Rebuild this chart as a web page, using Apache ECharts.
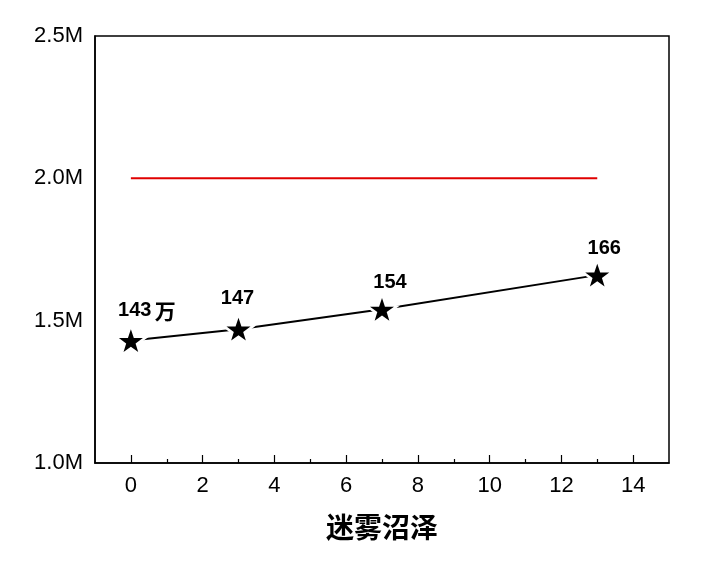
<!DOCTYPE html>
<html>
<head>
<meta charset="utf-8">
<script src="https://cdn.jsdelivr.net/npm/echarts@6/dist/echarts.min.js"></script>
<style>
  html, body { margin: 0; padding: 0; background: #fff; }
  #main { width: 703px; height: 563px; }
</style>
</head>
<body>
<div id="main"></div>
<script>
// data
var xValues = [0, 3, 7, 13];
var yValues = [1430000, 1470000, 1540000, 1660000];
var pointLabels = ['143', '147', '154', '166'];
var refX = [0, 13];
var refY = 2000000;
var xMajorTicks = [0, 2, 4, 6, 8, 10, 12, 14];
var xMinorTicks = [1, 3, 5, 7, 9, 11, 13];
var xTitle = '迷雾沼泽';

// label nudges (px) so each number sits where it does in the picture
var labelOffsets = [[16, -30], [-1, -31], [8, -27], [7, -27]];

var starPath = 'path://M50,0 L61.8,35.1 L98.1,35.1 L68.8,56.7 L79.4,91 L50,70 L20.6,91 L31.2,56.7 L1.9,35.1 L38.2,35.1 Z';
var fontLatin = '"Liberation Sans", Arial, sans-serif';

var chart = echarts.init(document.getElementById('main'));

var points = xValues.map(function (x, i) { return [x, yValues[i]]; });

var labelled = xValues.map(function (x, i) {
    return {
        value: [x, yValues[i]],
        label: {
            show: true,
            position: 'inside',
            offset: labelOffsets[i],
            formatter: i === 0 ? '{n|' + pointLabels[i] + '} {u|万}' : '{n|' + pointLabels[i] + '}'
        }
    };
});

var option = {
    animation: false,
    backgroundColor: '#fff',
    grid: {
        left: 95, top: 36, right: 34, bottom: 100,
        show: true,
        borderColor: '#000',
        borderWidth: 1.5,
        backgroundColor: 'transparent'
    },
    xAxis: [
        {
            type: 'value',
            min: -1, max: 15,
            splitLine: { show: false },
            axisLine: { show: true, onZero: false, lineStyle: { color: '#000', width: 1.5 } },
            axisTick: { show: true, inside: true, length: 8, customValues: xMajorTicks, lineStyle: { color: '#000', width: 1.2 } },
            axisLabel: {
                customValues: xMajorTicks,
                color: '#000', fontSize: 22, fontFamily: fontLatin, margin: 12
            },
            name: xTitle,
            nameLocation: 'middle',
            nameGap: 50,
            nameTextStyle: { color: '#000', fontSize: 28, fontWeight: 'bold', fontFamily: '"Noto Sans CJK SC", sans-serif' }
        },
        {
            type: 'value',
            position: 'bottom',
            min: -1, max: 15,
            splitLine: { show: false },
            axisLine: { show: false },
            axisTick: { show: true, inside: true, length: 4, customValues: xMinorTicks, lineStyle: { color: '#000', width: 1.2 } },
            axisLabel: { show: false }
        }
    ],
    yAxis: {
        type: 'value',
        min: 1000000, max: 2500000, interval: 500000,
        splitLine: { show: false },
        axisLine: { show: true, onZero: false, lineStyle: { color: '#000', width: 1.5 } },
        axisTick: { show: false },
        axisLabel: {
            color: '#000', fontSize: 22, fontFamily: fontLatin, margin: 12,
            formatter: function (v) { return (v / 1000000).toFixed(1) + 'M'; }
        }
    },
    series: [
        {
            type: 'line',
            data: refX.map(function (x) { return [x, refY]; }),
            symbol: 'none',
            lineStyle: { color: '#e00000', width: 2 },
            z: 2
        },
        {
            type: 'line',
            data: points,
            symbol: 'none',
            lineStyle: { color: '#000', width: 2 },
            z: 3
        },
        // white halo so the line stops short of each star
        {
            type: 'scatter',
            data: points,
            symbol: starPath,
            symbolSize: 36,
            symbolKeepAspect: true,
            itemStyle: { color: '#fff', opacity: 1 },
            silent: true,
            z: 4
        },
        {
            type: 'scatter',
            data: labelled,
            symbol: starPath,
            symbolSize: 24,
            symbolKeepAspect: true,
            itemStyle: { color: '#000', opacity: 1 },
            label: {
                rich: {
                    n: { fontSize: 20, fontWeight: 'bold', color: '#000', fontFamily: fontLatin },
                    u: { fontSize: 21, fontWeight: 'bold', color: '#000', fontFamily: '"Noto Sans CJK SC", sans-serif' }
                }
            },
            z: 5
        }
    ]
};

chart.setOption(option);
</script>
</body>
</html>
